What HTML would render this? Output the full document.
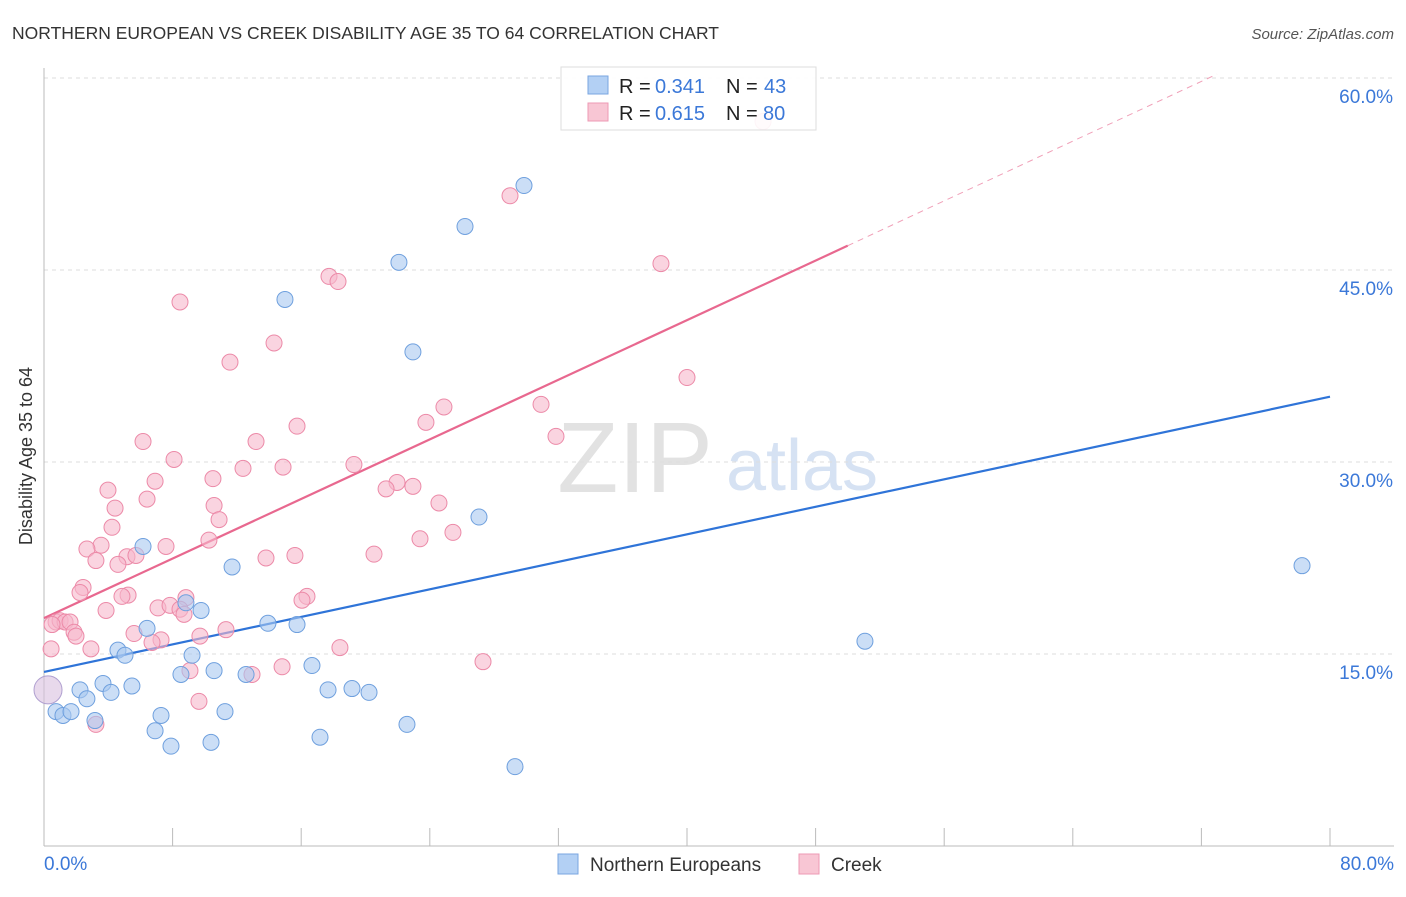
<!DOCTYPE html>
<html><head><meta charset="utf-8"><style>
body{margin:0;background:#fff;font-family:"Liberation Sans",sans-serif;}
svg text{font-family:"Liberation Sans",sans-serif;}
</style></head><body>
<svg id="chart" width="1406" height="892">
<text x="12" y="39" font-size="17.5" fill="#333">NORTHERN EUROPEAN VS CREEK DISABILITY AGE 35 TO 64 CORRELATION CHART</text>
<text x="1394" y="39" font-size="15" fill="#555" font-style="italic" text-anchor="end">Source: ZipAtlas.com</text>
<text x="32" y="456" font-size="18" fill="#333" text-anchor="middle" transform="rotate(-90 32 456)">Disability Age 35 to 64</text>
<g id="watermark"><text x="635" y="492" font-size="100" fill="#e2e2e2" font-family="Liberation Serif" text-anchor="middle">ZIP</text><text x="802" y="490" font-size="72" fill="#d6e2f3" text-anchor="middle">atlas</text></g>
<g id="grid"></g><g id="axes"></g><g id="lines"></g><g id="pts"></g>
<g>
<rect x="561" y="67" width="255" height="63" fill="#fff" fill-opacity="0.9" stroke="#ddd"/>
<rect x="588" y="76" width="20" height="18" fill="#b3d0f4" stroke="#7aa6e0"/>
<rect x="588" y="103" width="20" height="18" fill="#f8c6d4" stroke="#ee9ab4"/>
<text x="619" y="93" font-size="20" fill="#222">R =</text><text x="655" y="93" font-size="20" fill="#3b78d8">0.341</text>
<text x="726" y="93" font-size="20" fill="#222">N =</text><text x="764" y="93" font-size="20" fill="#3b78d8">43</text>
<text x="619" y="120" font-size="20" fill="#222">R =</text><text x="655" y="120" font-size="20" fill="#3b78d8">0.615</text>
<text x="726" y="120" font-size="20" fill="#222">N =</text><text x="763" y="120" font-size="20" fill="#3b78d8">80</text>
</g>
<g>
<rect x="558" y="854" width="20" height="20" fill="#b3d0f4" stroke="#7aa6e0"/>
<text x="590" y="871" font-size="19" fill="#333">Northern Europeans</text>
<rect x="799" y="854" width="20" height="20" fill="#f8c6d4" stroke="#ee9ab4"/>
<text x="831" y="871" font-size="19" fill="#333">Creek</text>
</g>
</svg>
<script>
const xTicks=[0,8,16,24,32,40,48,56,64,72,80];
const yTicks=[15,30,45,60];
const yTickLabels=["15.0%","30.0%","45.0%","60.0%"];
const blueX=[29.86,26.19,22.08,14.99,22.95,27.06,78.26,51.07,11.70,6.16,9.77,8.83,13.93,15.74,6.41,4.60,5.04,9.21,8.52,10.58,12.57,16.67,17.67,19.16,20.22,5.47,3.67,2.24,2.67,4.17,0.75,1.18,1.68,7.28,11.26,3.17,6.91,7.90,10.39,17.17,22.58,29.30];
const blueY=[51.6,48.4,45.6,42.7,38.6,25.7,21.9,16.0,21.8,23.4,18.4,19.0,17.4,17.3,17.0,15.3,14.9,14.9,13.4,13.7,13.4,14.1,12.2,12.3,12.0,12.5,12.7,12.2,11.5,12.0,10.5,10.2,10.5,10.2,10.5,9.8,9.0,7.8,8.1,8.5,9.5,6.2];
const pinkX=[44.73,28.99,38.38,17.73,18.29,8.46,14.31,11.57,40.0,24.88,30.92,23.76,31.85,15.74,6.16,13.19,8.09,19.28,14.87,12.38,10.51,6.91,3.98,21.96,22.95,21.28,6.41,24.57,10.58,4.42,10.89,4.23,25.44,10.26,23.39,3.55,2.67,7.59,15.61,13.81,20.53,5.16,5.72,3.23,4.60,2.43,2.24,5.23,4.85,8.83,16.36,16.05,7.09,7.84,8.46,8.71,3.86,0.75,1.0,1.31,1.62,0.5,1.87,1.99,5.6,9.7,11.32,7.28,6.72,2.92,0.44,18.41,14.81,9.08,12.94,27.31,9.64,3.23];
const pinkY=[56.6,50.8,45.5,44.5,44.1,42.5,39.3,37.8,36.6,34.3,34.5,33.1,32.0,32.8,31.6,31.6,30.2,29.8,29.6,29.5,28.7,28.5,27.8,28.4,28.1,27.9,27.1,26.8,26.6,26.4,25.5,24.9,24.5,23.9,24.0,23.5,23.2,23.4,22.7,22.5,22.8,22.6,22.7,22.3,22.0,20.2,19.8,19.6,19.5,19.4,19.5,19.2,18.6,18.8,18.5,18.1,18.4,17.5,17.6,17.5,17.5,17.3,16.7,16.4,16.6,16.4,16.9,16.1,15.9,15.4,15.4,15.5,14.0,13.7,13.4,14.4,11.3,9.5];
const bigPoint=[0.25,12.2];
const blueLine=[[0,13.6],[80,35.1]];
const pinkLine=[[0,17.8],[50,46.9]];
const pinkDash=[[50,46.9],[80,64.4]];
const X=v=>44+v*1286/80, Y=v=>846-v*192/15;
const NS="http://www.w3.org/2000/svg";
function mk(tag,attrs,parent){const e=document.createElementNS(NS,tag);for(const k in attrs)e.setAttribute(k,attrs[k]);document.getElementById(parent).appendChild(e);return e;}
yTicks.forEach((t,i)=>{
 const g=mk('line',{x1:44,x2:1394,y1:Y(t),y2:Y(t),stroke:'#ddd','stroke-dasharray':'4,4'},'grid');
 
 
 const l=mk('text',{x:1393,y:Y(t)+25,'font-size':19,fill:'#3b78d8','text-anchor':'end'},'axes');
 l.textContent=yTickLabels[i];
 
 
});
const ya=mk('line',{x1:44,x2:44,y1:68,y2:846,stroke:'#bbb'},'axes');


const xa=mk('line',{x1:44,x2:1394,y1:846,y2:846,stroke:'#bbb'},'axes');


xTicks.forEach(t=>{
 const tk=mk('line',{x1:X(t),x2:X(t),y1:828,y2:846,stroke:'#bbb'},'axes');
 
 
});
const x0=mk('text',{x:44,y:870,'font-size':19,fill:'#3b78d8'},'axes');x0.textContent='0.0%';


const x1=mk('text',{x:1394,y:870,'font-size':19,fill:'#3b78d8','text-anchor':'end'},'axes');x1.textContent='80.0%';


function pt(x,y,r,fill,stroke,name){const c=mk('circle',{cx:X(x),cy:Y(y),r:r,fill:fill,stroke:stroke,'stroke-width':1,'fill-opacity':0.6},'pts');
 
 }
pinkX.forEach((x,i)=>pt(x,pinkY[i],8,'#f7b8cb','#ec8aa8','creek-point'));
blueX.forEach((x,i)=>pt(x,blueY[i],8,'#a8c8f0','#6fa0de','northern-european-point'));
pt(bigPoint[0],bigPoint[1],14,'#d8c0e0','#b0a0d0','overlap-point');
const bl=mk('line',{x1:X(blueLine[0][0]),y1:Y(blueLine[0][1]),x2:X(blueLine[1][0]),y2:Y(blueLine[1][1]),stroke:'#2f74d8','stroke-width':2.2},'lines');


const pl=mk('line',{x1:X(pinkLine[0][0]),y1:Y(pinkLine[0][1]),x2:X(pinkLine[1][0]),y2:Y(pinkLine[1][1]),stroke:'#e8688f','stroke-width':2.2},'lines');


const ex=(60.3-pinkDash[0][1])/(pinkDash[1][1]-pinkDash[0][1]);
const pd=mk('line',{x1:X(pinkDash[0][0]),y1:Y(pinkDash[0][1]),x2:X(pinkDash[0][0]+ex*(pinkDash[1][0]-pinkDash[0][0])),y2:Y(60.3),stroke:'#f0a0b8','stroke-width':1,'stroke-dasharray':'6,5'},'lines');


</script>
</body></html>
